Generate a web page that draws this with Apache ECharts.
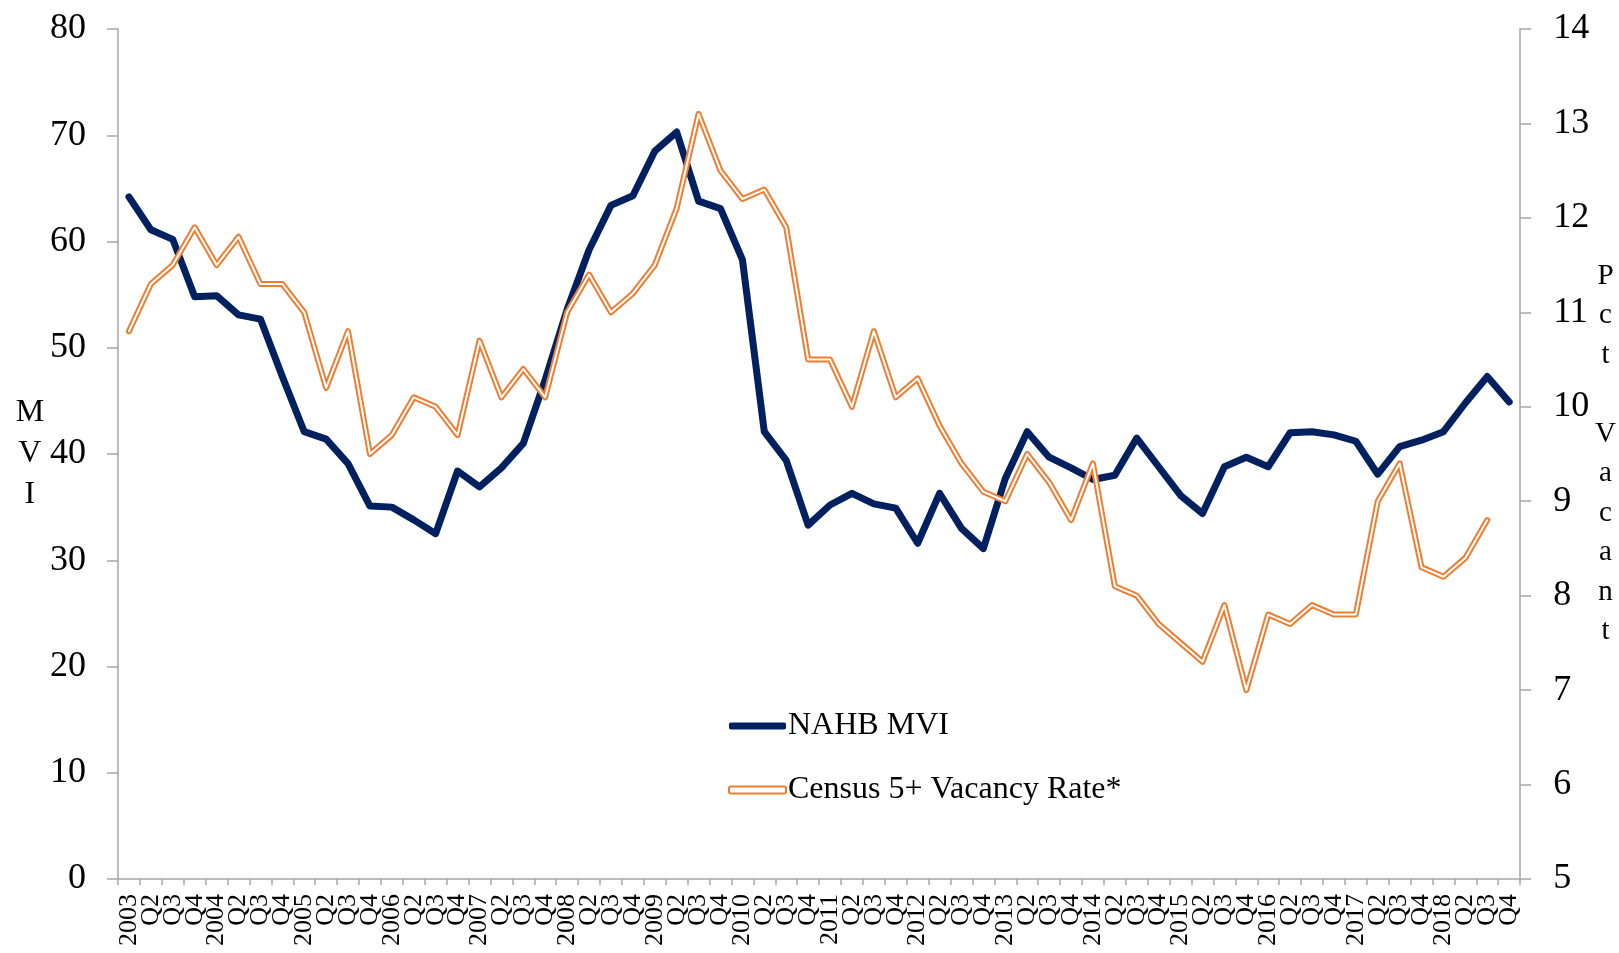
<!DOCTYPE html>
<html>
<head>
<meta charset="utf-8">
<script src="https://cdn.jsdelivr.net/npm/echarts@6/dist/echarts.min.js"></script>
<style>
html,body{margin:0;padding:0;background:#fff;overflow:hidden;}
#chart{width:1619px;height:953px;}
</style>
</head>
<body>
<div id="chart"></div>
<script>
const categories = [
  '2003','Q2','Q3','Q4','2004','Q2','Q3','Q4','2005','Q2','Q3','Q4','2006','Q2','Q3','Q4',
  '2007','Q2','Q3','Q4','2008','Q2','Q3','Q4','2009','Q2','Q3','Q4','2010','Q2','Q3','Q4',
  '2011','Q2','Q3','Q4','2012','Q2','Q3','Q4','2013','Q2','Q3','Q4','2014','Q2','Q3','Q4',
  '2015','Q2','Q3','Q4','2016','Q2','Q3','Q4','2017','Q2','Q3','Q4','2018','Q2','Q3','Q4'
];
const mviValues = [
  64.2,61.1,60.2,54.8,54.9,53.1,52.7,47.3,42.1,41.4,39.1,35.1,35.0,33.8,32.5,38.4,
  36.9,38.7,41.0,47.0,53.6,59.2,63.4,64.3,68.5,70.3,63.8,63.1,58.3,42.1,39.4,33.3,
  35.2,36.3,35.3,34.9,31.6,36.3,33.0,31.1,37.7,42.1,39.7,38.7,37.6,38.0,41.5,38.8,
  36.1,34.4,38.8,39.7,38.8,42.0,42.1,41.8,41.2,38.1,40.7,41.3,42.1,44.8,47.3,44.9
];
const vacancyValues = [
  10.8,11.3,11.5,11.9,11.5,11.8,11.3,11.3,11.0,10.2,10.8,9.5,9.7,10.1,10.0,9.7,
  10.7,10.1,10.4,10.1,11.0,11.4,11.0,11.2,11.5,12.1,13.1,12.5,12.2,12.3,11.9,10.5,
  10.5,10.0,10.8,10.1,10.3,9.8,9.4,9.1,9.0,9.5,9.2,8.8,9.4,8.1,8.0,7.7,
  7.5,7.3,7.9,7.0,7.8,7.7,7.9,7.8,7.8,9.0,9.4,8.3,8.2,8.4,8.8,null
];
const seriesNames = ['NAHB MVI', 'Census 5+ Vacancy Rate*'];

const FONT = "'Liberation Serif','Times New Roman',serif";
const NAVY = '#002060';
const ORANGE = '#ED7D31';
const AXIS_COLOR = '#a6a6a6';

const chart = echarts.init(document.getElementById('chart'), null, {renderer: 'canvas'});
chart.setOption({
  animation: false,
  backgroundColor: '#ffffff',
  textStyle: {fontFamily: FONT, color: '#000'},
  grid: {left: 118, right: 84, top: 29, bottom: 74, containLabel: false},
  legend: {
    orient: 'vertical',
    left: 723,
    top: 704,
    itemWidth: 57,
    itemHeight: 7,
    itemGap: 30,
    textStyle: {fontFamily: FONT, fontSize: 32, color: '#000', lineHeight: 34, padding: [0,0,0,-3]},
    data: [
      {name: seriesNames[0], icon: 'roundRect', itemStyle: {color: NAVY, borderWidth: 0}},
      {name: seriesNames[1], icon: 'roundRect', itemStyle: {color: '#ffffff', borderColor: ORANGE, borderWidth: 2}}
    ]
  },
  xAxis: {
    type: 'category',
    data: categories,
    boundaryGap: true,
    axisLine: {lineStyle: {color: AXIS_COLOR, width: 1.5}},
    axisTick: {show: true, length: 6, interval: 0, lineStyle: {color: AXIS_COLOR, width: 1.5}},
    axisLabel: {interval: 0, rotate: 90, fontSize: 26, fontFamily: FONT, color: '#000', margin: 15},
    splitLine: {show: false}
  },
  yAxis: [
    {
      type: 'value', min: 0, max: 80, interval: 10, position: 'left',
      name: 'M\nV\nI', nameLocation: 'middle', nameRotate: 0, nameGap: 84,
      nameTextStyle: {fontFamily: FONT, fontSize: 32, color: '#000', lineHeight: 41, align: 'center'},
      axisLine: {show: true, lineStyle: {color: AXIS_COLOR, width: 1.5}},
      axisTick: {show: true, length: 11, lineStyle: {color: AXIS_COLOR, width: 1.5}},
      axisLabel: {fontSize: 36, fontFamily: FONT, color: '#000', margin: 32},
      splitLine: {show: false}
    },
    {
      type: 'value', min: 5, max: 14, interval: 1, position: 'right',
      name: 'P\nc\nt\n\nV\na\nc\na\nn\nt', nameLocation: 'middle', nameRotate: 0, nameGap: 71,
      nameTextStyle: {fontFamily: FONT, fontSize: 29, color: '#000', lineHeight: 39.5, align: 'center'},
      axisLine: {show: true, lineStyle: {color: AXIS_COLOR, width: 1.5}},
      axisTick: {show: true, length: 11, lineStyle: {color: AXIS_COLOR, width: 1.5}},
      axisLabel: {fontSize: 36, fontFamily: FONT, color: '#000', margin: 33},
      splitLine: {show: false}
    }
  ],
  series: [
    {
      name: seriesNames[0], type: 'line', yAxisIndex: 0, data: mviValues,
      showSymbol: false, symbol: 'none', smooth: false,
      lineStyle: {color: NAVY, width: 7, cap: 'round', join: 'round'},
      itemStyle: {color: NAVY}
    },
    {
      name: seriesNames[1], type: 'line', yAxisIndex: 1, data: vacancyValues,
      showSymbol: false, symbol: 'none', smooth: false,
      lineStyle: {color: ORANGE, width: 6, cap: 'round', join: 'round'},
      itemStyle: {color: ORANGE}
    },
    {
      name: 'vacancyInner', type: 'line', yAxisIndex: 1, data: vacancyValues,
      showSymbol: false, symbol: 'none', smooth: false, silent: true,
      lineStyle: {color: '#ffffff', width: 2, cap: 'round', join: 'round'},
      itemStyle: {color: '#ffffff'}
    }
  ]
});
</script>
</body>
</html>
